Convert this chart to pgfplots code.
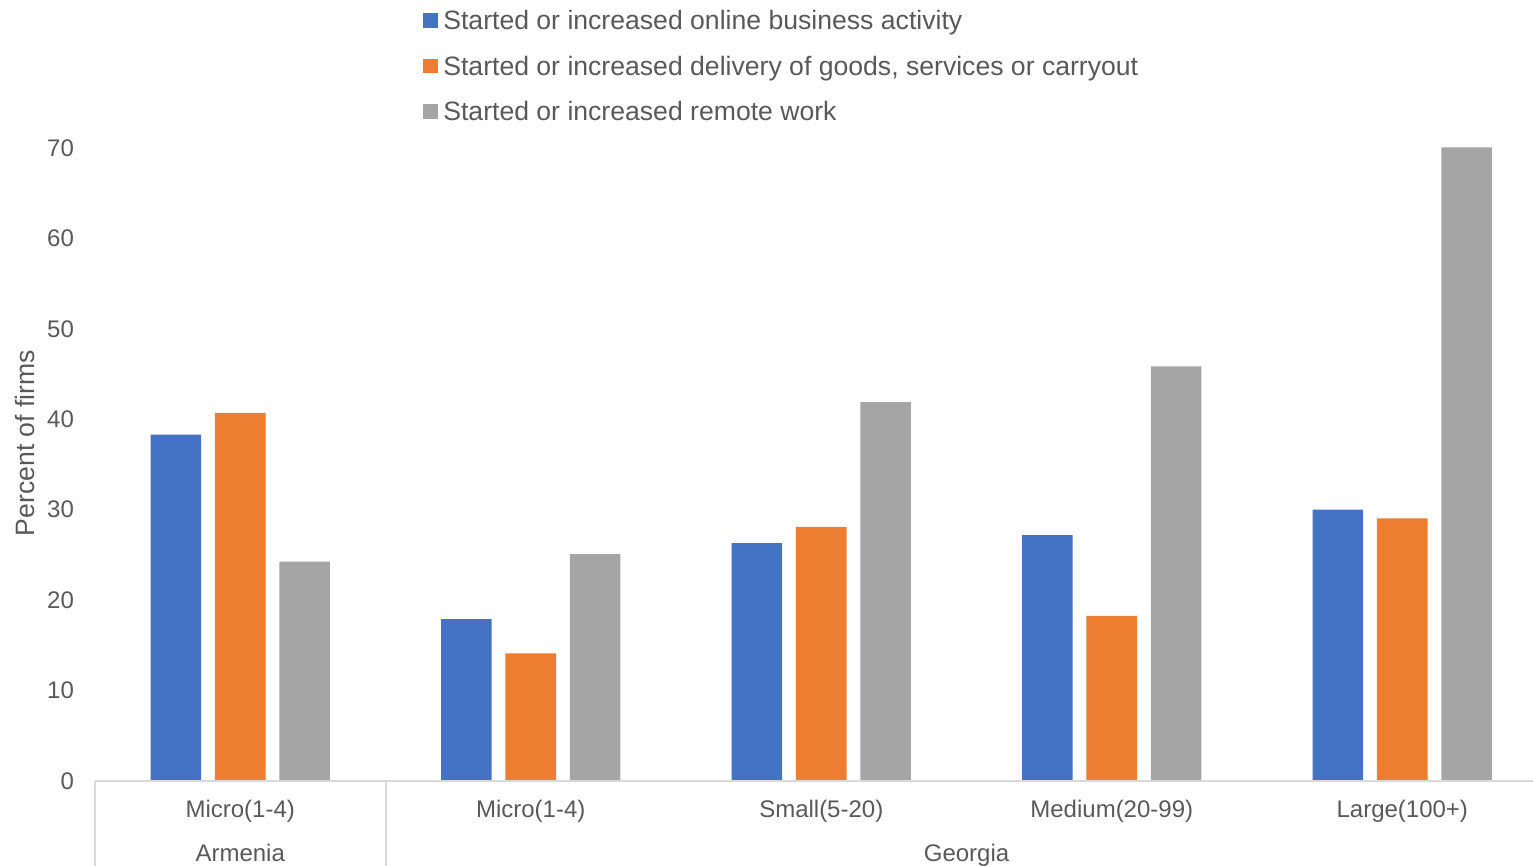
\documentclass[border=0pt]{standalone}
\usepackage{pgfplots}
\pgfplotsset{compat=1.18}
\usepackage{fontspec}
\setmainfont{Liberation Sans}
\definecolor{cblue}{HTML}{4472C4}
\definecolor{corange}{HTML}{ED7D31}
\definecolor{cgray}{HTML}{A5A5A5}
\definecolor{textgray}{HTML}{595959}
\definecolor{linegray}{HTML}{D9D9D9}
\begin{document}
\begin{tikzpicture}
\path[use as bounding box] (-47.5pt,-42.5pt) rectangle (719pt,390.5pt);
\begin{axis}[
  at={(0,0)}, anchor=south west,
  scale only axis, width=719pt, height=316.5pt,
  xmin=-0.5, xmax=4.45, ymin=0, ymax=70,
  clip=false,
  axis line style={draw=none},
  major tick length=0pt,
  tick style={draw=none},
  ytick={0,10,...,70},
  xtick={0,1,2,3,4},
  xticklabels={Micro(1-4),Micro(1-4),Small(5-20),Medium(20-99),Large(100+)},
  ticklabel style={font=\fontsize{12}{14}\selectfont, text=textgray},
  /pgf/number format/assume math mode=true,
  yticklabel style={anchor=east, xshift=-7pt},
  xticklabel style={anchor=base, yshift=-18.5pt},
  ylabel={Percent of firms},
  ylabel style={at={(axis description cs:-0.0487,0.534)}, anchor=center, font=\fontsize{13.3}{15}\selectfont, text=textgray},
  ybar, bar width=25.3pt,
  legend style={at={(rel axis cs:0.2284,1.2188)}, anchor=north west, draw=none, fill=none,
    inner sep=0pt, outer sep=0pt, row sep=9.75pt, column sep=2.75pt,
    font=\fontsize{13.3}{15}\selectfont, text=textgray,
    nodes={inner sep=0pt, text height=10pt, text depth=3pt}},
  legend cell align=left,
  legend image code/.code={\fill[#1] (0pt,-2.5pt) rectangle (7.2pt,4.7pt);},
]
\addplot[fill=cblue, draw=none, bar shift=-32.2pt] coordinates {(0,38.3) (1,17.9) (2,26.3) (3,27.2) (4,30.0)};
\addplot[fill=corange, draw=none, bar shift=0pt] coordinates {(0,40.7) (1,14.1) (2,28.1) (3,18.25) (4,29.05)};
\addplot[fill=cgray, draw=none, bar shift=32.2pt] coordinates {(0,24.25) (1,25.1) (2,41.9) (3,45.85) (4,70.07)};
\legend{Started or increased online business activity,Started or increased delivery of goods{,} services or carryout,Started or increased remote work}
\draw[linegray, line width=1pt] (axis cs:-0.5,0) -- (axis cs:4.45,0);
\draw[linegray, line width=1pt] (axis cs:-0.5,0) -- ([yshift=-42.5pt]axis cs:-0.5,0);
\draw[linegray, line width=1pt] (axis cs:0.5,0) -- ([yshift=-42.5pt]axis cs:0.5,0);
\node[anchor=base, text=textgray, font=\fontsize{12}{14}\selectfont] at ([yshift=-40.5pt]axis cs:0,0) {Armenia};
\node[anchor=base, text=textgray, font=\fontsize{12}{14}\selectfont] at ([yshift=-40.5pt]axis cs:2.5,0) {Georgia};
\end{axis}
\end{tikzpicture}
\end{document}
